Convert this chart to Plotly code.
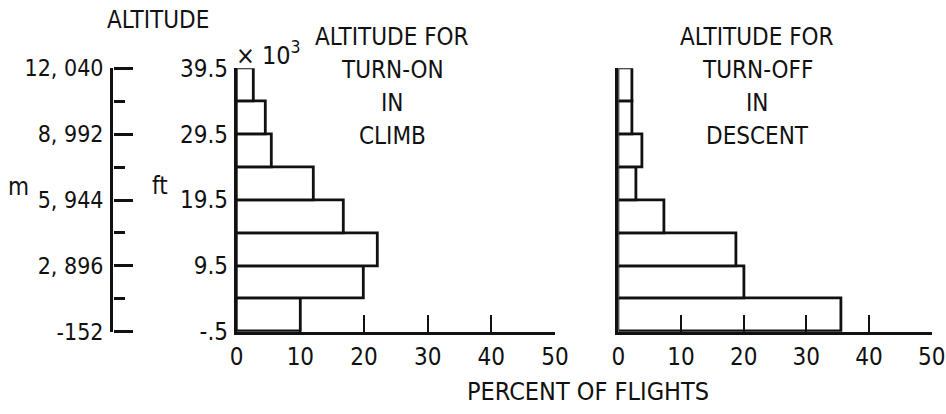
import plotly.graph_objects as go

# ---- data ----
bin_edges_kft = [-0.5, 4.5, 9.5, 14.5, 19.5, 24.5, 29.5, 34.5, 39.5]
turn_on_climb_pct = [10.0, 20.0, 22.2, 16.8, 12.1, 5.5, 4.5, 2.6]
turn_off_descent_pct = [35.6, 20.1, 18.8, 7.3, 2.8, 3.8, 2.2, 2.2]
ft_tick_vals = [39.5, 29.5, 19.5, 9.5, -0.5]
ft_tick_text = ["39.5", "29.5", "19.5", "9.5", "-.5"]
m_tick_vals = [12040, 8992, 5944, 2896, -152]
m_tick_text = ["12, 040", "8, 992", "5, 944", "2, 896", "-152"]
m_minor_vals = [10516, 7468, 4420, 1372]
pct_ticks = [0, 10, 20, 30, 40, 50]
left_title = ["ALTITUDE FOR", "TURN-ON", "IN", "CLIMB"]
right_title = ["ALTITUDE FOR", "TURN-OFF", "IN", "DESCENT"]

W, H = 946, 414
FONT = "DejaVu Sans Condensed, Liberation Sans Narrow, DejaVu Sans, sans-serif"
INK = "#111111"
FS = 24


def px(x):
    return x / W


def py(y):
    return 1 - y / H


centers = [(a + b) / 2 for a, b in zip(bin_edges_kft[:-1], bin_edges_kft[1:])]
widths = [b - a for a, b in zip(bin_edges_kft[:-1], bin_edges_kft[1:])]

fig = go.Figure()
bar_style = dict(orientation="h", base=0, marker=dict(color="white", line=dict(color=INK, width=2.8)),
                 hoverinfo="skip", showlegend=False)
fig.add_trace(go.Bar(x=turn_on_climb_pct, y=centers, width=widths, xaxis="x", yaxis="y", **bar_style))
fig.add_trace(go.Bar(x=turn_off_descent_pct, y=centers, width=widths, xaxis="x2", yaxis="y2", **bar_style))
# meter axis carriers: y3 = line + labels, y4 = tick marks (pointing right)
for xa, ya in [("x3", "y3"), ("x4", "y4")]:
    fig.add_trace(go.Scatter(x=[0, 0], y=[m_tick_vals[-1], m_tick_vals[0]], mode="markers",
                             marker=dict(opacity=0), hoverinfo="skip", showlegend=False,
                             xaxis=xa, yaxis=ya))

ydom = [py(331.7), py(68.3)]
xcommon = dict(range=[0, 50], showline=True, linewidth=2.8, linecolor=INK, ticks="inside",
               ticklen=17, tickwidth=2.4, tickcolor=INK, tickvals=pct_ticks,
               ticktext=[str(v) for v in pct_ticks], showgrid=False, zeroline=False,
               automargin=False, ticklabelstandoff=2,
               tickfont=dict(family=FONT, size=FS, color=INK), fixedrange=True)
m_range = [m_tick_vals[-1], m_tick_vals[0]]
fig.update_layout(
    width=W, height=H, margin=dict(l=0, r=0, t=0, b=0, autoexpand=False),
    paper_bgcolor="white", plot_bgcolor="white", bargap=0,
    font=dict(family=FONT, size=FS, color=INK),
    xaxis=dict(domain=[px(236.7), px(555)], anchor="y", **xcommon),
    xaxis2=dict(domain=[px(618.3), px(931.7)], anchor="y2", **xcommon),
    xaxis3=dict(domain=[px(113), px(150)], anchor="y3", visible=False, range=[0, 1]),
    xaxis4=dict(domain=[px(80), px(113)], anchor="y4", visible=False, range=[0, 1]),
    yaxis=dict(domain=ydom, anchor="x", range=[-0.5, 39.5], showline=True, linewidth=2.8,
               linecolor=INK, ticks="", tickvals=ft_tick_vals, ticktext=ft_tick_text,
               showgrid=False, zeroline=False, ticklabelstandoff=1, automargin=False,
               tickfont=dict(family=FONT, size=FS, color=INK)),
    yaxis2=dict(domain=ydom, anchor="x2", range=[-0.5, 39.5], showline=True, linewidth=2.8,
                linecolor=INK, ticks="", showticklabels=False, showgrid=False, zeroline=False,
                automargin=False),
    yaxis3=dict(domain=ydom, anchor="x3", range=m_range, showline=True,
                linewidth=2.8, linecolor=INK, ticks="", tickvals=m_tick_vals,
                ticktext=m_tick_text, showgrid=False, zeroline=False, ticklabelstandoff=2,
                automargin=False, tickfont=dict(family=FONT, size=23, color=INK)),
    yaxis4=dict(domain=ydom, anchor="x4", side="right", range=m_range, showline=False,
                ticks="outside", ticklen=19, tickwidth=2.6, tickcolor=INK,
                tickvals=m_tick_vals, showticklabels=False, showgrid=False, zeroline=False,
                automargin=False,
                minor=dict(tickvals=m_minor_vals, ticks="outside", ticklen=11, tickwidth=2.6,
                           tickcolor=INK, showgrid=False)),
)

ann = []


def text(x, y, s, xanchor="center", size=FS):
    ann.append(dict(x=px(x), y=py(y), xref="paper", yref="paper", text=s, showarrow=False,
                    xanchor=xanchor, yanchor="middle", font=dict(family=FONT, size=size, color=INK)))


text(158, 20, "ALTITUDE")
text(18, 187, "m")
text(160, 186, "ft")
text(234, 53, "× 10<sup>3</sup>", xanchor="left", size=25)
for i, s in enumerate(left_title):
    text(392, 37 + 33 * i, s)
for i, s in enumerate(right_title):
    text(757, 37 + 33 * i, s)
text(588, 391, "PERCENT OF FLIGHTS", size=25)
fig.update_layout(annotations=ann)

fig.write_html("out.html", config={"displayModeBar": False},
               post_script="document.body.style.margin='0';")
